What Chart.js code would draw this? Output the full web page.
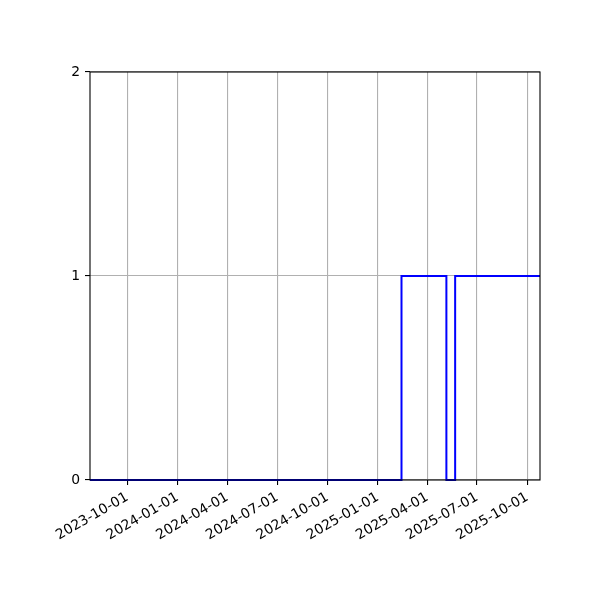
<!DOCTYPE html>
<html>
<head>
<meta charset="utf-8">
<script src="https://cdn.jsdelivr.net/npm/chart.js@4"></script>
<style>
html,body{margin:0;padding:0;background:#fff;}
#wrap{width:600px;height:600px;}
</style>
</head>
<body>
<div id="wrap"><canvas id="c" width="600" height="600"></canvas></div>
<script>
// Data
const stepDates = ['2023-07-25','2025-02-13','2025-05-06','2025-05-22','2025-10-24'];
const stepValues = [0, 1, 0, 1, 1];
const xTickLabels = ['2023-10-01','2024-01-01','2024-04-01','2024-07-01','2024-10-01','2025-01-01','2025-04-01','2025-07-01','2025-10-01'];
const yTickValues = [0, 1, 2];
const xRange = ['2023-07-25','2025-10-24'];

const DAY = 86400000;
function toDay(s){ const p=s.split('-').map(Number); return Date.UTC(p[0],p[1]-1,p[2])/DAY; }
function fromDay(d){ const dt=new Date(Math.round(d)*DAY); return dt.toISOString().slice(0,10); }

const points = stepDates.map((d,i)=>({x:toDay(d), y:stepValues[i]}));
const xTickDays = xTickLabels.map(toDay);

const frame = {
  id:'frame',
  afterDatasetsDraw(chart){
    const {ctx, chartArea:a} = chart;
    ctx.save();
    ctx.strokeStyle='#000';
    ctx.lineWidth=1.1;
    ctx.strokeRect(a.left, a.top, a.right-a.left, a.bottom-a.top);
    ctx.restore();
  }
};

const font = {family:'DejaVu Sans', size:13.9};

new Chart(document.getElementById('c'), {
  type:'line',
  data:{datasets:[{
    data: points,
    borderColor:'#0000ff',
    borderWidth:2,
    stepped:'before',
    pointRadius:0,
    fill:false,
    clip:false
  }]},
  options:{
    responsive:false,
    animation:false,
    devicePixelRatio:1,
    layout:{padding:{top:72, right:60, left:0, bottom:0}},
    plugins:{legend:{display:false}, tooltip:{enabled:false}},
    scales:{
      x:{
        type:'linear',
        min: toDay(xRange[0]),
        max: toDay(xRange[1]),
        afterBuildTicks(scale){ scale.ticks = xTickDays.map(v=>({value:v})); },
        afterFit(scale){ scale.height = 120; },
        ticks:{
          callback:(v)=>fromDay(v),
          maxRotation:30, minRotation:30,
          autoSkip:false,
          color:'#000',
          font: font,
          padding:4
        },
        grid:{color:'#b0b0b0', lineWidth:1.1, tickColor:'#000', tickLength:5, drawTicks:true},
        border:{display:false}
      },
      y:{
        min:0, max:2,
        afterBuildTicks(scale){ scale.ticks = yTickValues.map(v=>({value:v})); },
        afterFit(scale){ scale.width = 90; },
        ticks:{color:'#000', font: font, padding:5},
        grid:{color:'#b0b0b0', lineWidth:1.1, tickColor:'#000', tickLength:5, drawTicks:true},
        border:{display:false}
      }
    }
  },
  plugins:[frame]
});
</script>
</body>
</html>
